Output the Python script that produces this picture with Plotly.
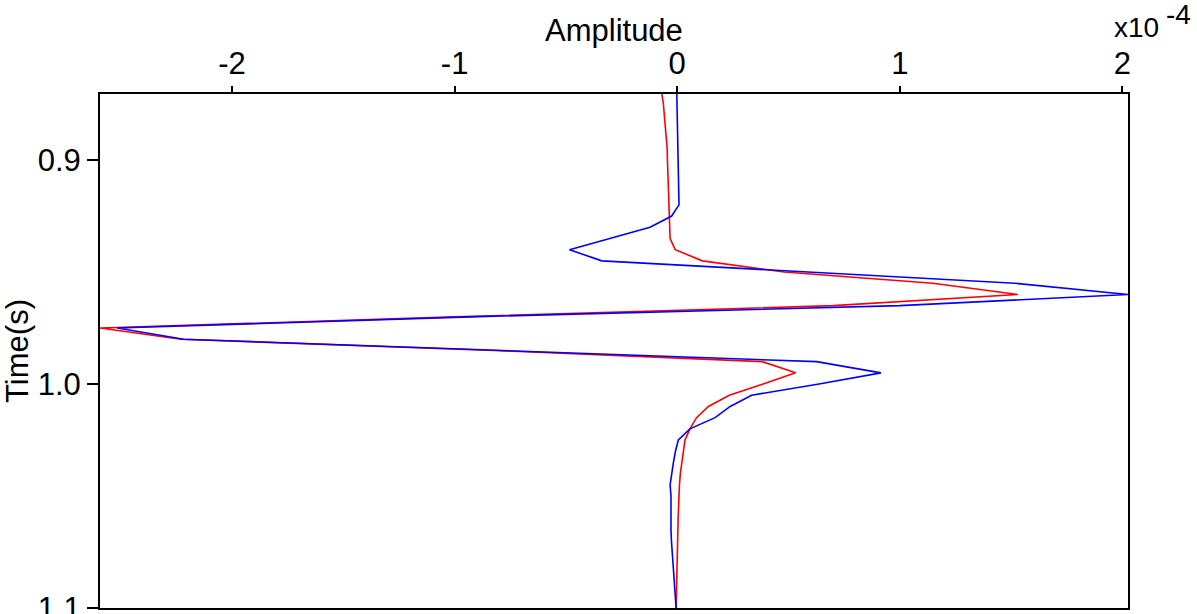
import plotly.graph_objects as go

# Time samples (s)
time_s = [round(0.870 + 0.005 * k, 3) for k in range(47)]

# Amplitude traces, in units of 1e-4
amp_red = [
    -0.070, -0.062, -0.058, -0.053, -0.049, -0.045, -0.044, -0.042, -0.041, -0.039,
    -0.038, -0.036, -0.034, -0.032, -0.009, 0.113, 0.480, 1.148, 1.530, 0.700,
    -1.000, -2.593, -2.230, -0.820, 0.382, 0.532, 0.386, 0.234, 0.140, 0.087,
    0.057, 0.035, 0.028, 0.020, 0.014, 0.010, 0.007, 0.005, 0.004, 0.003,
    0.002, 0.001, 0.000, -0.001, -0.003, -0.004, -0.005,
]
amp_blue = [
    -0.002, -0.001, 0.000, 0.001, 0.002, 0.003, 0.003, 0.004, 0.005, 0.006,
    0.008, -0.025, -0.122, -0.303, -0.484, -0.339, 0.583, 1.517, 2.025, 1.000,
    -0.930, -2.516, -2.217, -0.800, 0.626, 0.915, 0.637, 0.334, 0.238, 0.170,
    0.057, 0.005, -0.008, -0.017, -0.025, -0.032, -0.028, -0.029, -0.029, -0.028,
    -0.026, -0.023, -0.019, -0.016, -0.012, -0.008, -0.005,
]

x_ticks = [-2, -1, 0, 1, 2]
y_ticks = [0.9, 1.0, 1.1]

FONT = "Liberation Sans, Arial, sans-serif"

fig = go.Figure()
fig.add_trace(go.Scatter(x=amp_red, y=time_s, mode="lines",
                         line=dict(color="#ff0000", width=1.6), showlegend=False))
fig.add_trace(go.Scatter(x=amp_blue, y=time_s, mode="lines",
                         line=dict(color="#0000ff", width=1.6), showlegend=False))

x_min = min(min(amp_red), min(amp_blue))
x_max = max(max(amp_red), max(amp_blue))

fig.update_layout(
    width=1197, height=614,
    margin=dict(l=100, r=69, t=94, b=6),
    paper_bgcolor="white", plot_bgcolor="white",
    font=dict(family=FONT, size=31, color="black"),
    xaxis=dict(
        side="top", range=[x_min, x_max], automargin=False,
        tickvals=x_ticks, ticktext=[str(v) for v in x_ticks],
        ticks="outside", ticklen=6, tickwidth=1.5, tickcolor="black",
        showline=True, linecolor="black", linewidth=2, mirror=True,
        showgrid=False, zeroline=False,
    ),
    yaxis=dict(
        range=[1.1, 0.8705], automargin=False,
        tickvals=y_ticks, ticktext=[f"{v:.1f}" for v in y_ticks],
        ticks="outside", ticklen=11, tickwidth=1.5, tickcolor="black",
        ticklabeloverflow="allow",
        showline=True, linecolor="black", linewidth=2, mirror=True,
        showgrid=False, zeroline=False,
        title=dict(text="Time(s)", standoff=4, font=dict(size=31)),
    ),
)

# Amplitude axis title above the top tick labels
fig.add_annotation(xref="paper", yref="paper", x=0.5, y=1.0, yshift=64,
                   xanchor="center", yanchor="middle", showarrow=False,
                   text="Amplitude", font=dict(size=31, family=FONT))

# Exponent label for the amplitude axis
fig.add_annotation(xref="paper", yref="paper", x=1.0, y=1.0, yshift=49, xshift=8,
                   xanchor="center", yanchor="bottom", showarrow=False,
                   text="x10", font=dict(size=28, family=FONT))
fig.add_annotation(xref="paper", yref="paper", x=1.0, y=1.0, yshift=62, xshift=50,
                   xanchor="center", yanchor="bottom", showarrow=False,
                   text="-4", font=dict(size=28, family=FONT))

fig.write_html("out.html")
